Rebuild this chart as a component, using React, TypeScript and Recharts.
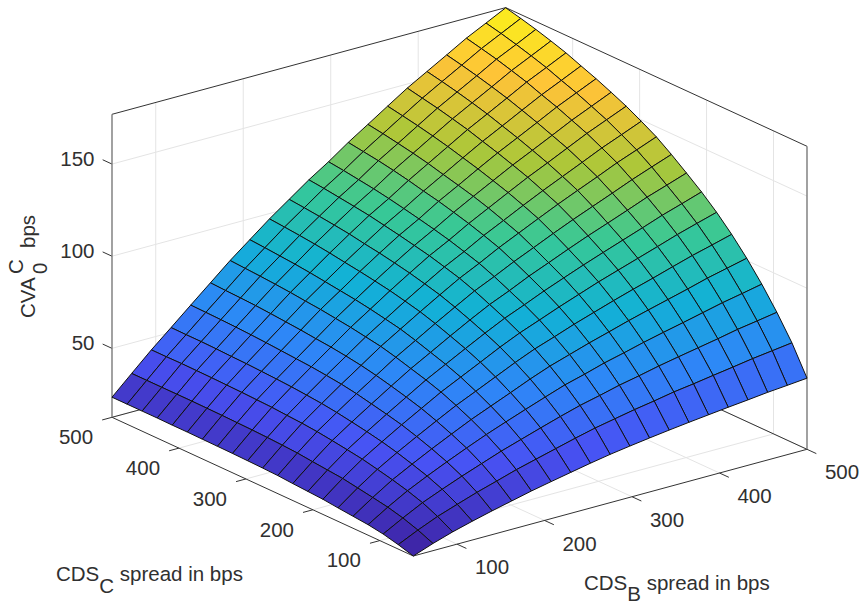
import React from "react";
import { ScatterChart, Scatter, XAxis, YAxis } from "recharts";

// grid of the surface, CDS_B across, CDS_C down
const cdsB = [50, 72.5, 95, 117.5, 140, 162.5, 185, 207.5, 230, 252.5, 275, 297.5, 320, 342.5, 365, 387.5, 410, 432.5, 455, 477.5, 500];
const cdsC = [50, 72.5, 95, 117.5, 140, 162.5, 185, 207.5, 230, 252.5, 275, 297.5, 320, 342.5, 365, 387.5, 410, 432.5, 455, 477.5, 500];

// CVA values, one row per CDS_C value
const cva = [
  [12.6, 16.5, 19.9, 22.8, 25.5, 28.0, 30.5, 32.7, 34.8, 36.9, 38.8, 40.4, 41.9, 43.3, 44.6, 45.8, 47.0, 48.1, 49.3, 50.2, 51.2],
  [15.0, 20.0, 24.5, 28.2, 31.8, 35.0, 38.3, 41.1, 43.9, 46.7, 49.3, 51.4, 53.5, 55.3, 57.3, 58.8, 60.5, 62.1, 63.8, 65.2, 66.6],
  [17.0, 22.8, 28.2, 32.6, 36.8, 40.7, 44.6, 48.0, 51.4, 54.7, 57.8, 60.3, 63.0, 65.2, 67.6, 69.7, 71.7, 73.7, 75.9, 77.6, 79.4],
  [18.3, 24.9, 30.9, 36.0, 40.8, 45.4, 49.8, 53.8, 57.7, 61.5, 65.2, 68.1, 71.3, 73.9, 76.7, 79.2, 81.6, 84.1, 86.6, 88.7, 90.9],
  [19.1, 26.4, 33.1, 38.7, 44.1, 49.2, 54.2, 58.6, 63.0, 67.5, 71.6, 75.0, 78.4, 81.5, 84.7, 87.6, 90.4, 93.2, 96.2, 98.7, 101.2],
  [19.9, 27.8, 35.0, 41.2, 47.0, 52.6, 58.1, 62.9, 67.8, 72.7, 77.2, 80.9, 84.8, 88.3, 91.8, 95.1, 98.2, 101.5, 104.7, 107.5, 110.4],
  [20.8, 29.2, 36.8, 43.3, 49.6, 55.6, 61.6, 66.8, 72.0, 77.3, 82.1, 86.2, 90.4, 94.3, 98.2, 101.7, 105.2, 108.7, 112.3, 115.5, 118.6],
  [21.3, 30.0, 38.1, 45.0, 51.6, 58.0, 64.4, 70.0, 75.6, 81.1, 86.3, 90.7, 95.3, 99.5, 103.6, 107.5, 111.3, 115.1, 119.0, 122.4, 125.9],
  [21.8, 30.8, 39.3, 46.5, 53.4, 60.2, 66.8, 72.7, 78.7, 84.5, 90.0, 94.6, 99.6, 104.0, 108.5, 112.8, 116.8, 120.9, 125.1, 128.7, 132.4],
  [22.4, 31.7, 40.4, 47.9, 55.2, 62.2, 69.2, 75.4, 81.7, 87.7, 93.6, 98.5, 103.7, 108.4, 113.2, 117.8, 122.1, 126.4, 130.8, 134.8, 138.7],
  [22.7, 32.2, 41.2, 49.0, 56.6, 63.9, 71.3, 77.8, 84.3, 90.6, 96.7, 101.9, 107.5, 112.5, 117.5, 122.4, 127.0, 131.5, 136.2, 140.3, 144.5],
  [22.9, 32.6, 41.7, 49.8, 57.6, 65.2, 72.7, 79.5, 86.3, 92.8, 99.1, 104.5, 110.4, 115.6, 120.9, 126.0, 130.8, 135.6, 140.5, 144.8, 149.2],
  [23.1, 32.9, 42.3, 50.5, 58.5, 66.3, 74.1, 81.1, 88.2, 94.9, 101.4, 107.0, 113.1, 118.6, 124.1, 129.5, 134.4, 139.5, 144.6, 149.1, 153.6],
  [23.2, 33.1, 42.6, 51.0, 59.1, 67.1, 75.2, 82.5, 89.7, 96.6, 103.2, 109.1, 115.4, 121.2, 126.8, 132.4, 137.5, 142.7, 148.0, 152.7, 157.4],
  [23.3, 33.3, 42.9, 51.4, 59.7, 68.0, 76.3, 83.6, 91.1, 98.2, 105.0, 111.0, 117.6, 123.4, 129.4, 135.2, 140.5, 145.9, 151.4, 156.2, 161.0],
  [23.4, 33.4, 43.1, 51.8, 60.3, 68.7, 77.1, 84.7, 92.3, 99.5, 106.6, 112.8, 119.4, 125.5, 131.7, 137.7, 143.2, 148.8, 154.3, 159.2, 164.2],
  [23.4, 33.5, 43.3, 52.0, 60.8, 69.4, 78.0, 85.8, 93.6, 101.0, 108.2, 114.5, 121.4, 127.7, 134.0, 140.3, 145.9, 151.6, 157.4, 162.4, 167.5],
  [23.5, 33.5, 43.4, 52.3, 61.2, 70.0, 78.7, 86.7, 94.7, 102.1, 109.4, 116.0, 123.1, 129.5, 136.0, 142.4, 148.2, 154.0, 159.9, 165.0, 170.2],
  [23.5, 33.5, 43.5, 52.5, 61.5, 70.4, 79.3, 87.4, 95.6, 103.1, 110.5, 117.2, 124.6, 131.1, 137.8, 144.4, 150.3, 156.2, 162.3, 167.4, 172.7],
  [23.5, 33.5, 43.4, 52.5, 61.7, 70.7, 79.8, 88.1, 96.4, 104.0, 111.6, 118.4, 125.8, 132.6, 139.4, 146.1, 152.2, 158.2, 164.3, 169.6, 174.9],
  [23.5, 33.5, 43.4, 52.6, 61.9, 71.1, 80.3, 88.7, 97.1, 104.8, 112.5, 119.4, 127.0, 133.9, 140.9, 147.8, 153.9, 160.0, 166.2, 171.5, 176.9],
];

const bTicks = [100, 200, 300, 400, 500];
const cTicks = [100, 200, 300, 400, 500];
const zTicks = [50, 100, 150];

const parula = [
  [62, 38, 168],
  [72, 82, 244],
  [46, 135, 247],
  [18, 177, 214],
  [55, 200, 151],
  [171, 199, 57],
  [254, 195, 56],
  [249, 251, 21],
];

const W = 861;
const H = 604;
const LO = 50;
const HI = 500;
const Z_MIN = 12.6;
const Z_MAX = 177;
const FONT = "'Liberation Sans', Arial, sans-serif";
const INK = "#303030";

// orthographic view of the box, result is in chart units (1 unit = 1 px here)
function project(b: number, c: number, z: number) {
  const u = (b - LO) / (HI - LO);
  const v = (c - LO) / (HI - LO);
  const w = (z - Z_MIN) / (Z_MAX - Z_MIN);
  return {
    x: 413.3 + u * 393.7 - v * 301.3,
    y: 556 - u * 106.7 - v * 138.7 - w * 303,
  };
}

function colorOf(z: number) {
  const t = Math.max(0, Math.min(0.9999, (z - Z_MIN) / (Z_MAX - Z_MIN))) * (parula.length - 1);
  const k = Math.floor(t);
  const f = t - k;
  const rgb = parula[k].map((a, n) => Math.round(a + (parula[k + 1][n] - a) * f));
  return `rgb(${rgb.join(",")})`;
}

// back cells first so the nearer ones paint over them
const cells: any[] = [];
for (let j = cdsC.length - 2; j >= 0; j--) {
  for (let i = cdsB.length - 2; i >= 0; i--) {
    const p0 = project(cdsB[i], cdsC[j], cva[j][i]);
    const corners = [
      p0,
      project(cdsB[i + 1], cdsC[j], cva[j][i + 1]),
      project(cdsB[i + 1], cdsC[j + 1], cva[j + 1][i + 1]),
      project(cdsB[i], cdsC[j + 1], cva[j + 1][i]),
    ];
    cells.push({
      x: p0.x,
      y: p0.y,
      offsets: corners.map((p) => [p.x - p0.x, p.y - p0.y]),
      fill: colorOf(cva[j][i]),
    });
  }
}

const GRID = "#e4e4e4";
const DARK = "#333333";
const WALL = "#7a7a7a";
const TB = 0.031; // tick length in axis fractions
const TC = 0.025;
const SPAN = HI - LO;

const gridSegs: [any, any][] = [
  ...bTicks.map((b) => [project(b, LO, Z_MIN), project(b, HI, Z_MIN)] as [any, any]),
  ...cTicks.map((c) => [project(LO, c, Z_MIN), project(HI, c, Z_MIN)] as [any, any]),
  ...bTicks.map((b) => [project(b, HI, Z_MIN), project(b, HI, Z_MAX)] as [any, any]),
  ...cTicks.map((c) => [project(HI, c, Z_MIN), project(HI, c, Z_MAX)] as [any, any]),
  ...zTicks.map((z) => [project(LO, HI, z), project(HI, HI, z)] as [any, any]),
  ...zTicks.map((z) => [project(HI, LO, z), project(HI, HI, z)] as [any, any]),
];

const darkSegs: [any, any][] = [
  [project(LO, HI, Z_MIN), project(HI, HI, Z_MIN)],
  [project(HI, LO, Z_MIN), project(HI, HI, Z_MIN)],
  [project(LO, LO, Z_MIN), project(HI, LO, Z_MIN)],
  [project(LO, LO, Z_MIN), project(LO, HI, Z_MIN)],
  [project(LO, HI, Z_MAX), project(HI, HI, Z_MAX)],
  [project(HI, LO, Z_MAX), project(HI, HI, Z_MAX)],
  ...bTicks.map((b) => [project(b, LO, Z_MIN), project(b, LO - TB * SPAN, Z_MIN)] as [any, any]),
  ...cTicks.map((c) => [project(LO, c, Z_MIN), project(LO - TC * SPAN, c, Z_MIN)] as [any, any]),
  ...zTicks.map((z) => [project(LO, HI, z), project(LO, HI + TB * SPAN, z)] as [any, any]),
];

const wallSegs: [any, any][] = [
  [project(LO, HI, Z_MIN), project(LO, HI, Z_MAX)],
  [project(HI, LO, Z_MIN), project(HI, LO, Z_MAX)],
];

const shift = (p: { x: number; y: number }, dx: number, dy: number) => ({ x: p.x + dx, y: p.y + dy });

const tickLabels = [
  ...bTicks.map((b) => ({ ...shift(project(b, LO, Z_MIN), 35, 22.7), text: String(b), anchor: "middle" })),
  ...cTicks.map((c) => ({ ...shift(project(LO, c, Z_MIN), -36, 19.5), text: String(c), anchor: "middle" })),
  ...zTicks.map((z) => ({ ...shift(project(LO, HI, z), -17.5, -5.8), text: String(z), anchor: "end" })),
];

const Nothing = () => null;

const CellShape = ({ cx, cy, payload }: any) => (
  <polygon
    points={payload.offsets.map(([dx, dy]: number[]) => `${cx + dx},${cy + dy}`).join(" ")}
    fill={payload.fill}
    stroke="#111111"
    strokeWidth={1}
    strokeLinejoin="round"
  />
);

const TickText = ({ cx, cy, payload }: any) => (
  <text x={cx} y={cy} dy="0.36em" textAnchor={payload.anchor} fontSize={20.5} fontFamily={FONT} fill={INK}>
    {payload.text}
  </text>
);

const Segment = ({ seg, stroke, width }: { seg: [any, any]; stroke: string; width: number }) => null;

const TitleC = ({ cx, cy }: any) => (
  <text x={cx} y={cy} fontSize={20.5} fontFamily={FONT} fill={INK}>
    CDS
    <tspan fontSize={20.5} dy={12}>C</tspan>
    <tspan dy={-12}> spread in bps</tspan>
  </text>
);

const TitleB = ({ cx, cy }: any) => (
  <text x={cx} y={cy} fontSize={20.5} fontFamily={FONT} fill={INK}>
    CDS
    <tspan fontSize={20.5} dy={11}>B</tspan>
    <tspan dy={-11}> spread in bps</tspan>
  </text>
);

const TitleZ = ({ cx, cy }: any) => (
  <g transform={`rotate(-90 ${cx} ${cy})`} fontFamily={FONT} fontSize={20.5} fill={INK}>
    <text x={cx} y={cy}>CVA</text>
    <text x={cx + 44} y={cy - 12}>C</text>
    <text x={cx + 44} y={cy + 12}>0</text>
    <text x={cx + 70} y={cy}>bps</text>
  </g>
);

function lineSeries(segs: [any, any][], stroke: string, width: number, key: string) {
  return segs.map((seg, n) => (
    <Scatter
      key={`${key}-${n}`}
      data={seg}
      line={{ stroke, strokeWidth: width }}
      shape={Nothing}
      isAnimationActive={false}
    />
  ));
}

export default function App() {
  return (
    <div style={{ position: "absolute", left: 0, top: 0, width: W, height: H, background: "#fff" }}>
      <ScatterChart width={W} height={H} margin={{ top: 0, right: 0, bottom: 0, left: 0 }}>
        <XAxis type="number" dataKey="x" domain={[0, W]} hide />
        <YAxis type="number" dataKey="y" domain={[0, H]} reversed hide />
        {lineSeries(gridSegs, GRID, 1, "grid")}
        {lineSeries(darkSegs, DARK, 1, "dark")}
        {lineSeries(wallSegs, WALL, 1.4, "wall")}
        <Scatter data={cells} shape={CellShape} isAnimationActive={false} />
        <Scatter data={tickLabels} shape={TickText} isAnimationActive={false} />
        <Scatter data={[{ x: 56, y: 581 }]} shape={TitleC} isAnimationActive={false} />
        <Scatter data={[{ x: 584, y: 590 }]} shape={TitleB} isAnimationActive={false} />
        <Scatter data={[{ x: 35, y: 318 }]} shape={TitleZ} isAnimationActive={false} />
      </ScatterChart>
    </div>
  );
}
